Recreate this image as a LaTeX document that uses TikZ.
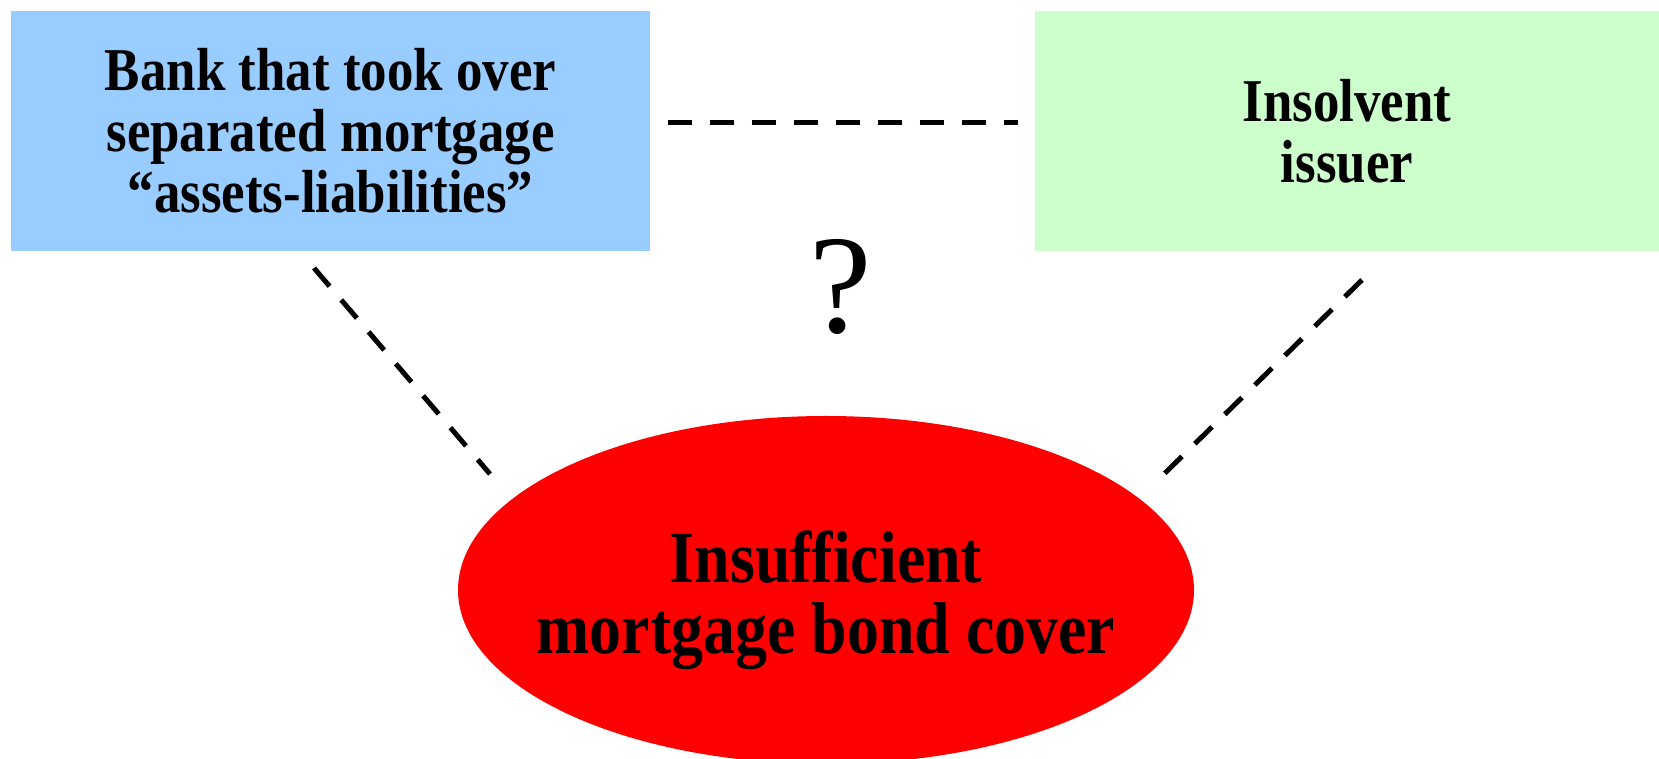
\documentclass[tikz,border=0pt]{standalone}
\usepackage{fontspec}
\setmainfont{Liberation Serif}[FakeStretch=0.87]
\newfontfamily\askfont{Liberation Serif}
\usetikzlibrary{shapes.geometric, positioning, calc}
\definecolor{bankblue}{HTML}{99CCFF}
\definecolor{issuergreen}{HTML}{CCFFCC}

\begin{document}
\begin{tikzpicture}[
    box/.style={minimum height=2.40cm, inner sep=0pt, align=center, font=\fontsize{17.3}{17.4}\selectfont\bfseries},
    link/.style={line width=0.05cm, dash pattern=on 0.24cm off 0.18cm}]
    \useasboundingbox (0,0) rectangle (16.59,7.59);
    \node[box, fill=bankblue, minimum width=6.39cm] (bank) at (3.305,6.28) {Bank that took over\\separated mortgage\\“assets-liabilities”};
    \node[box, fill=issuergreen, minimum width=6.24cm] (issuer) at (13.47,6.28) {Insolvent\\issuer};
    \node[ellipse, fill=red, minimum width=7.36cm, minimum height=3.48cm, inner sep=0pt] (cover) at (8.26,1.69) {};
    \node[align=center, inner sep=0pt, font=\fontsize{20.9}{20.2}\selectfont\bfseries] (cover-label)
        at ([yshift=-0.10cm]cover.center) {Insufficient\\mortgage bond cover};
    \node[font=\askfont\fontsize{40}{40}\selectfont] (ask) at (8.41,4.72) {?};
    % loose ends of the side links
    \coordinate (bank-end) at (3.14,4.91);
    \coordinate (cover-left) at (4.90,2.85);
    \coordinate (issuer-end) at (13.62,4.79);
    \coordinate (cover-right) at (11.64,2.85);
    \draw[link, shorten <=0.17cm, shorten >=0.16cm] ([yshift=0.08cm]bank.east) -- ([yshift=0.08cm]issuer.west);
    \draw[link] (bank-end) -- (cover-left);
    \draw[link] (issuer-end) -- (cover-right);
\end{tikzpicture}
\end{document}
